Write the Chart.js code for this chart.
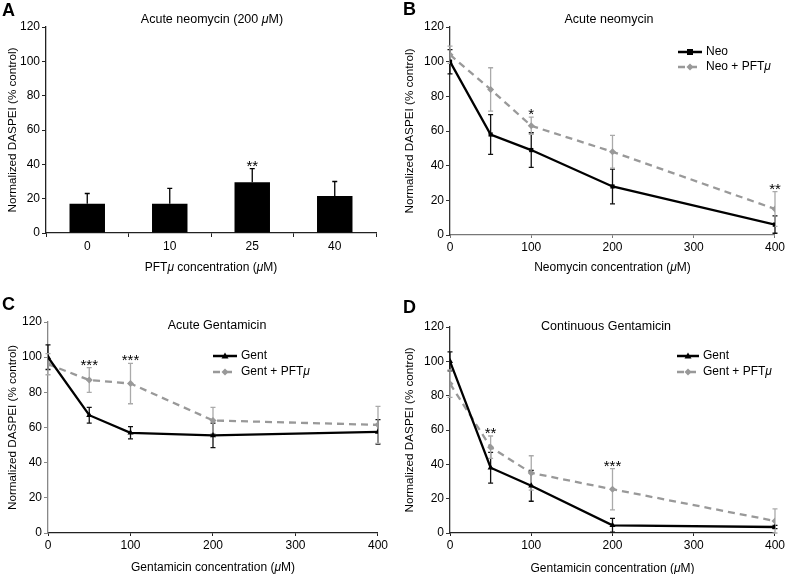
<!DOCTYPE html>
<html>
<head>
<meta charset="utf-8">
<script src="https://cdn.jsdelivr.net/npm/chart.js@4.4.1/dist/chart.umd.min.js"></script>
<style>
  body { margin: 0; background: #fff; }
  #wrap { position: relative; width: 787px; height: 574px; background: #fff; }
  canvas { position: absolute; }
</style>
</head>
<body>
<div id="wrap">
  <canvas id="panelA" width="390" height="285" style="left:0;top:0"></canvas>
  <canvas id="panelB" width="397" height="285" style="left:390px;top:0"></canvas>
  <canvas id="panelC" width="390" height="289" style="left:0;top:285px"></canvas>
  <canvas id="panelD" width="397" height="289" style="left:390px;top:285px"></canvas>
</div>
<script>
const FONT = "'Liberation Sans', Arial, Helvetica, sans-serif";

// Panel A - bars
const pftLabels = ["0", "10", "25", "40"];
const aMean = [17, 17, 29.5, 21.5];
const aErr = [6, 9, 8, 8.5];
const aSig = ["", "", "**", ""];

// Panel B - acute neomycin
const neoConc = [0, 50, 100, 200, 400];
const neoMean = [100, 58, 49, 28, 6];
const neoErr = [7, 11.5, 10, 10, 5];
const neoPftMean = [104, 84, 63, 48, 15];
const neoPftErr = [5, 12.5, 5, 9.5, 10];
const bSig = ["", "", "*", "", "**"];

// Panel C - acute gentamicin
const gentConc = [0, 50, 100, 200, 400];
const gentAcute = [100, 67, 57, 55.5, 57.5];
const gentAcuteErr = [7, 4.5, 3.5, 7, 7];
const gentPftAcute = [96, 87, 85, 64, 61.5];
const gentPftAcuteErr = [6, 7, 11.5, 7.5, 10.5];
const cSig = ["", "***", "***", "", ""];

// Panel D - continuous gentamicin
const gentCont = [100, 38, 27.5, 4.5, 3.5];
const gentContErr = [5.5, 9, 9, 4, 1];
const gentPftCont = [87, 50, 35, 25.5, 7];
const gentPftContErr = [8, 6.5, 10, 12, 7];
const dSig = ["", "**", "", "***", ""];

const yTicks = [0, 20, 40, 60, 80, 100, 120];

// draw text with every µ in italics
function richText(ctx, str, x, y, size, align) {
  const parts = str.split("μ");
  const segs = [];
  parts.forEach((p, i) => {
    if (p) segs.push([p, false]);
    if (i < parts.length - 1) segs.push(["μ", true]);
  });
  const fontOf = it => (it ? "italic " : "") + size + "px " + FONT;
  let total = 0;
  segs.forEach(s => { ctx.font = fontOf(s[1]); total += ctx.measureText(s[0]).width; });
  let cx = align === "center" ? x - total / 2 : x;
  ctx.textAlign = "left";
  ctx.textBaseline = "middle";
  ctx.fillStyle = "#000";
  segs.forEach(s => {
    ctx.font = fontOf(s[1]);
    ctx.fillText(s[0], cx, y);
    cx += ctx.measureText(s[0]).width;
  });
}

function marker(ctx, style, x, y, r, color) {
  ctx.save();
  ctx.fillStyle = color;
  ctx.setLineDash([]);
  ctx.beginPath();
  if (style === "rect") {
    ctx.rect(x - r, y - r, 2 * r, 2 * r);
  } else if (style === "rectRot") {
    ctx.moveTo(x, y - r); ctx.lineTo(x + r, y); ctx.lineTo(x, y + r); ctx.lineTo(x - r, y);
  } else {
    ctx.moveTo(x, y - r); ctx.lineTo(x + r, y + r * 0.7); ctx.lineTo(x - r, y + r * 0.7);
  }
  ctx.closePath();
  ctx.fill();
  ctx.restore();
}

const panelPlugin = {
  id: "panel",
  beforeDatasetsDraw(chart) {
    const ctx = chart.ctx, ys = chart.scales.y;
    chart.data.datasets.forEach((ds, di) => {
      if (!ds.errors) return;
      const meta = chart.getDatasetMeta(di);
      ctx.save();
      ctx.strokeStyle = ds.errColor;
      ctx.lineWidth = 1.3;
      meta.data.forEach((el, i) => {
        const d = ds.data[i];
        const v = typeof d === "number" ? d : d.y;
        const top = ys.getPixelForValue(v + ds.errors[i]);
        const bot = ys.getPixelForValue(ds.upOnly ? v : Math.max(0, v - ds.errors[i]));
        ctx.beginPath();
        ctx.moveTo(el.x, top); ctx.lineTo(el.x, bot);
        ctx.moveTo(el.x - 2.5, top); ctx.lineTo(el.x + 2.5, top);
        if (!ds.upOnly) { ctx.moveTo(el.x - 2.5, bot); ctx.lineTo(el.x + 2.5, bot); }
        ctx.stroke();
      });
      ctx.restore();
    });
  },
  afterDraw(chart, args, o) {
    const ctx = chart.ctx, ca = chart.chartArea, ys = chart.scales.y;
    ctx.save();
    // panel letter
    ctx.font = "bold 18px " + FONT;
    ctx.fillStyle = "#000";
    ctx.textAlign = "left";
    ctx.textBaseline = "alphabetic";
    ctx.fillText(o.letter, o.letterX, o.letterY);
    // title and x axis title
    richText(ctx, o.title, o.titleX, o.titleY, 12.5, "center");
    richText(ctx, o.xTitle, (ca.left + ca.right) / 2, o.xTitleY, 12, "center");
    // significance stars
    o.sig.forEach((s, i) => {
      if (!s) return;
      let top = Infinity, px = 0;
      chart.data.datasets.forEach((ds, di) => {
        const d = ds.data[i];
        const v = typeof d === "number" ? d : d.y;
        const el = chart.getDatasetMeta(di).data[i];
        px = el.x;
        top = Math.min(top, ys.getPixelForValue(v + ds.errors[i]));
      });
      ctx.font = "15px " + FONT;
      ctx.fillStyle = "#000";
      ctx.textAlign = "center";
      ctx.textBaseline = "alphabetic";
      ctx.fillText(s, px, top + 2);
    });
    // legend
    if (o.legend) {
      chart.data.datasets.forEach((ds, di) => {
        const ly = o.legend.y + di * o.legend.dy;
        ctx.save();
        ctx.strokeStyle = ds.borderColor;
        ctx.lineWidth = 2.5;
        ctx.setLineDash(ds.borderDash || []);
        ctx.beginPath();
        ctx.moveTo(o.legend.x1, ly); ctx.lineTo(o.legend.x2, ly);
        ctx.stroke();
        ctx.restore();
        marker(ctx, ds.pointStyle, (o.legend.x1 + o.legend.x2) / 2, ly, ds.pointRadius, ds.borderColor);
        richText(ctx, ds.label, o.legend.x2 + 4, ly, 12, "left");
      });
    }
    ctx.restore();
  }
};

function yAxis(width, axisColor) {
  return {
    min: 0, max: 120,
    afterBuildTicks: s => { s.ticks = yTicks.map(v => ({ value: v })); },
    afterFit: s => { s.width = width; },
    ticks: { color: "#000", font: { size: 12, family: FONT }, padding: 2 },
    grid: { drawOnChartArea: false, drawTicks: true, tickLength: 4, color: axisColor },
    border: { color: axisColor, width: 1.3 },
    title: { display: true, text: "Normalized DASPEI (% control)", color: "#000",
             font: { size: 11.7, family: FONT }, padding: 0 }
  };
}

function xLinear(axisColor) {
  return {
    type: "linear", min: 0, max: 400,
    afterFit: s => { s.height = 22; },
    ticks: { stepSize: 100, color: "#000", font: { size: 12, family: FONT }, padding: 2 },
    grid: { drawOnChartArea: false, drawTicks: true, tickLength: 3, color: axisColor },
    border: { color: axisColor, width: 1.3 }
  };
}

function lineSet(label, xs, ys, errs, black, style, radius) {
  return {
    label: label,
    data: xs.map((x, i) => ({ x: x, y: ys[i] })),
    errors: errs,
    errColor: black ? "#111" : "#aaa",
    borderColor: black ? "#000" : "#999",
    backgroundColor: black ? "#000" : "#999",
    pointBackgroundColor: black ? "#000" : "#999",
    pointBorderWidth: 0,
    borderWidth: 2.3,
    borderDash: black ? [] : [7, 5],
    pointStyle: style,
    pointRadius: radius,
    tension: 0
  };
}

const common = {
  responsive: false,
  animation: false,
  events: []
};

// Panel A
new Chart("panelA", {
  type: "bar",
  data: {
    labels: pftLabels,
    datasets: [{
      data: aMean, errors: aErr, errColor: "#000", upOnly: true,
      backgroundColor: "#000", categoryPercentage: 1, barPercentage: 0.43
    }]
  },
  options: Object.assign({}, common, {
    layout: { padding: { left: 6, right: 14, top: 27, bottom: 30 } },
    plugins: {
      legend: { display: false }, tooltip: { enabled: false },
      panel: { letter: "A", letterX: 2, letterY: 16, title: "Acute neomycin (200 μM)",
               titleX: 212, titleY: 20, xTitle: "PFTμ concentration (μM)", xTitleY: 268, sig: aSig }
    },
    scales: {
      x: {
        afterFit: s => { s.height = 22; },
        ticks: { color: "#000", font: { size: 12, family: FONT }, padding: 2 },
        grid: { drawOnChartArea: false, drawTicks: true, tickLength: 4, color: "#222", offset: true },
        border: { color: "#222", width: 1.3 }
      },
      y: yAxis(40, "#222")
    }
  }),
  plugins: [panelPlugin]
});

// Panel B
new Chart("panelB", {
  type: "line",
  data: {
    datasets: [
      lineSet("Neo", neoConc, neoMean, neoErr, true, "rect", 3),
      lineSet("Neo + PFTμ", neoConc, neoPftMean, neoPftErr, false, "rectRot", 3.5)
    ]
  },
  options: Object.assign({}, common, {
    layout: { padding: { left: 13, right: 11, top: 27, bottom: 28 } },
    plugins: {
      legend: { display: false }, tooltip: { enabled: false },
      panel: { letter: "B", letterX: 13, letterY: 15, title: "Acute neomycin",
               titleX: 219, titleY: 20, xTitle: "Neomycin concentration (μM)", xTitleY: 268, sig: bSig,
               legend: { x1: 288, x2: 312, y: 52, dy: 15 } }
    },
    scales: { x: xLinear("#777"), y: yAxis(47, "#333") }
  }),
  plugins: [panelPlugin]
});

// Panel C
new Chart("panelC", {
  type: "line",
  data: {
    datasets: [
      lineSet("Gent", gentConc, gentAcute, gentAcuteErr, true, "triangle", 3.5),
      lineSet("Gent + PFTμ", gentConc, gentPftAcute, gentPftAcuteErr, false, "rectRot", 3.5)
    ]
  },
  options: Object.assign({}, common, {
    layout: { padding: { left: 6, right: 12, top: 37, bottom: 19 } },
    plugins: {
      legend: { display: false }, tooltip: { enabled: false },
      panel: { letter: "C", letterX: 2, letterY: 25, title: "Acute Gentamicin",
               titleX: 217, titleY: 41, xTitle: "Gentamicin concentration (μM)", xTitleY: 283, sig: cSig,
               legend: { x1: 213, x2: 237, y: 71, dy: 16 } }
    },
    scales: { x: xLinear("#222"), y: yAxis(42, "#888") }
  }),
  plugins: [panelPlugin]
});

// Panel D
new Chart("panelD", {
  type: "line",
  data: {
    datasets: [
      lineSet("Gent", gentConc, gentCont, gentContErr, true, "triangle", 3.5),
      lineSet("Gent + PFTμ", gentConc, gentPftCont, gentPftContErr, false, "rectRot", 3.5)
    ]
  },
  options: Object.assign({}, common, {
    layout: { padding: { left: 13, right: 10, top: 42, bottom: 19 } },
    plugins: {
      legend: { display: false }, tooltip: { enabled: false },
      panel: { letter: "D", letterX: 13, letterY: 28, title: "Continuous Gentamicin",
               titleX: 216, titleY: 42, xTitle: "Gentamicin concentration (μM)", xTitleY: 284, sig: dSig,
               legend: { x1: 287, x2: 309, y: 71, dy: 16 } }
    },
    scales: { x: xLinear("#222"), y: yAxis(47, "#333") }
  }),
  plugins: [panelPlugin]
});
</script>
</body>
</html>
